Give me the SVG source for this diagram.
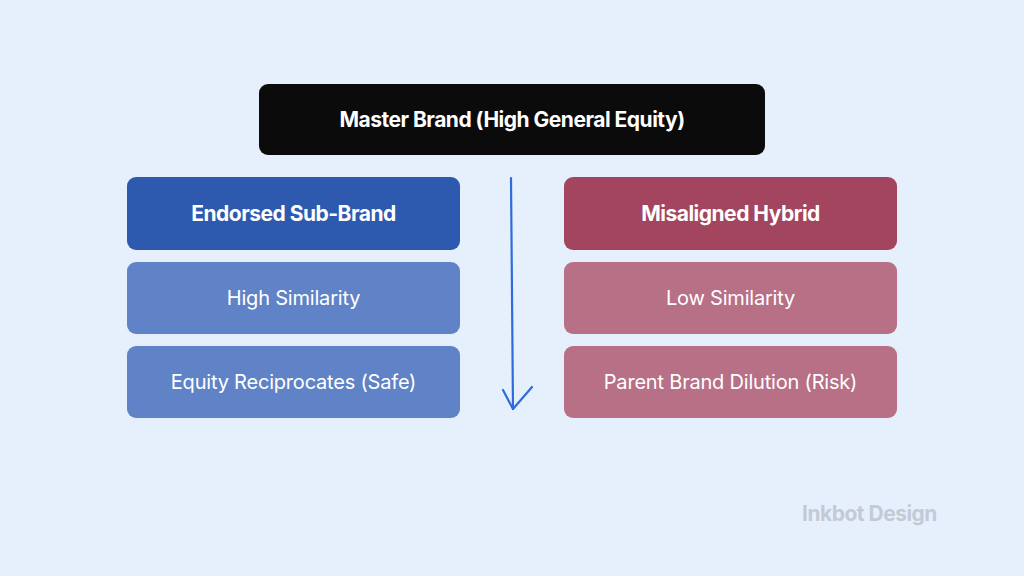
<svg xmlns="http://www.w3.org/2000/svg" width="1024" height="576" viewBox="0 0 1024 576">
<style>
.h{font-family:Inter,"Liberation Sans",sans-serif;font-weight:700;font-size:21px;fill:#ffffff;text-anchor:middle;letter-spacing:-0.5px}
.t{font-family:Inter,"Liberation Sans",sans-serif;font-weight:400;font-size:20px;fill:#ffffff;text-anchor:middle;letter-spacing:-0.2px}
</style>
<rect width="1024" height="576" fill="#E6F0FD"/>
<g id="master"><rect x="259" y="84" width="506" height="71" rx="9" fill="#0B0B0C"/><text class="h" x="512" y="126.5">Master Brand (High General Equity)</text></g>
<g id="endorsed"><rect x="127" y="177" width="333" height="73" rx="9" fill="#2D5AAF"/><text class="h" x="293.5" y="220.5">Endorsed Sub-Brand</text></g>
<g id="high-sim"><rect x="127" y="262" width="333" height="72" rx="9" fill="#5F83C6"/><text class="t" x="293.5" y="304.5">High Similarity</text></g>
<g id="equity-rec"><rect x="127" y="346" width="333" height="72" rx="9" fill="#5F83C6"/><text class="t" x="293.5" y="388.5">Equity Reciprocates (Safe)</text></g>
<g id="misaligned"><rect x="564" y="177" width="333" height="73" rx="9" fill="#A3455E"/><text class="h" x="730.5" y="220.5">Misaligned Hybrid</text></g>
<g id="low-sim"><rect x="564" y="262" width="333" height="72" rx="9" fill="#B77086"/><text class="t" x="730.5" y="304.5">Low Similarity</text></g>
<g id="dilution"><rect x="564" y="346" width="333" height="72" rx="9" fill="#B77086"/><text class="t" x="730.5" y="388.5">Parent Brand Dilution (Risk)</text></g>
<g id="connectors" fill="none" stroke="#2F6BDB" stroke-width="2.2" stroke-linecap="round" stroke-linejoin="round">
<path d="M511 178 Q512 300 513 409"/>
<path d="M503 390 L513 409 L532 387"/>
</g>
<text x="869.5" y="521" font-family="Inter,'Liberation Sans',sans-serif" font-weight="700" font-size="21" fill="#C3CAD6" text-anchor="middle" letter-spacing="-0.5">Inkbot Design</text>
</svg>
